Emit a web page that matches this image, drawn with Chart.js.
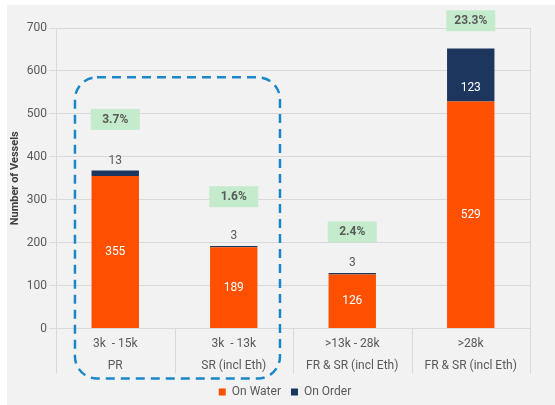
<!DOCTYPE html>
<html>
<head>
<meta charset="utf-8">
<script src="https://cdn.jsdelivr.net/npm/chart.js@4"></script>
<style>
html,body{margin:0;padding:0;background:#fff;}
#wrap{width:555px;height:405px;position:relative;}
</style>
</head>
<body>
<div id="wrap"><canvas id="c" width="555" height="405"></canvas></div>
<script>
// ---- data ----
const sizeRanges = ['3k  - 15k', '3k  - 13k', '>13k - 28k', '>28k'];
const vesselTypes = ['PR', 'SR (incl Eth)', 'FR & SR (incl Eth)', 'FR & SR (incl Eth)'];
const onWater = [355, 189, 126, 529];
const onOrder = [13, 3, 3, 123];
const orderbookPct = ['3.7%', '1.6%', '2.4%', '23.3%'];
const pctLabelAt = [487, 307, 225, 717];   // value-axis level of each % box
const yMin = 0, yMax = 700, yStep = 100;
const seriesNames = ['On Water', 'On Order'];
const groupedCats = [0, 1];                 // categories inside the dashed outline
const groupTop = 585;                        // value-axis level of the outline's top

const labels = sizeRanges.map((s, i) => [s, vesselTypes[i]]);

const FONT = 'Roboto, "Liberation Sans", Arial, sans-serif';
const GRID = '#d9d9d9';
const TXT = '#595959';
const SEP = 45; // length of category separators below axis

const bgPlugin = {
  id: 'bg',
  beforeDraw(chart) {
    const ctx = chart.ctx;
    ctx.save();
    ctx.fillStyle = '#ffffff';
    ctx.fillRect(0, 0, chart.width, chart.height);
    ctx.fillStyle = '#f2f2f2';
    ctx.fillRect(7, 5, chart.width - 7, chart.height - 5);
    ctx.restore();
  },
  afterLayout(chart) {
    const lg = chart.legend;
    if (lg) { lg.left -= 8; lg.right -= 8; lg.top += 3; lg.bottom += 3; }
  }
};

const decoPlugin = {
  id: 'deco',
  afterDatasetsDraw(chart) {
    const ctx = chart.ctx;
    const xs = chart.scales.x, ys = chart.scales.y;
    const ca = chart.chartArea;
    ctx.save();
    // right border of plot + category separators below axis
    ctx.strokeStyle = GRID; ctx.lineWidth = 1;
    ctx.beginPath();
    ctx.moveTo(Math.round(ca.right) + 0.5, ca.top);
    ctx.lineTo(Math.round(ca.right) + 0.5, ca.bottom);
    const n = labels.length;
    const step = xs.getPixelForValue(1) - xs.getPixelForValue(0);
    for (let i = 0; i <= n; i++) {
      const px = i < n ? xs.getPixelForValue(i) - step / 2 : ca.right;
      const X = Math.round(px) + 0.5;
      ctx.moveTo(X, ca.bottom);
      ctx.lineTo(X, ca.bottom + SEP);
    }
    ctx.stroke();

    // data labels
    const mWater = chart.getDatasetMeta(0), mOrder = chart.getDatasetMeta(1);
    ctx.font = '12px ' + FONT;
    ctx.textAlign = 'center'; ctx.textBaseline = 'middle';
    mWater.data.forEach((bar, i) => {
      ctx.fillStyle = '#ffffff';
      ctx.fillText(String(onWater[i]), bar.x, (bar.y + bar.base) / 2);
    });
    mOrder.data.forEach((bar, i) => {
      const h = bar.base - bar.y;
      if (h > 20) {
        ctx.fillStyle = '#ffffff';
        ctx.fillText(String(onOrder[i]), bar.x, bar.base - 13);
      } else {
        ctx.fillStyle = TXT;
        ctx.fillText(String(onOrder[i]), bar.x, bar.y - 10);
      }
    });

    // percentage boxes
    ctx.font = 'bold 12px ' + FONT;
    mOrder.data.forEach((bar, i) => {
      const cy = ys.getPixelForValue(pctLabelAt[i]);
      const w = 49, h = 21;
      ctx.fillStyle = '#c4ebcc';
      ctx.fillRect(bar.x - w / 2, cy - h / 2, w, h);
      ctx.fillStyle = TXT;
      ctx.fillText(orderbookPct[i], bar.x, cy + 0.5);
    });

    // dashed outline around grouped categories
    const catW = (ca.right - ca.left) / n;
    const l = xs.getPixelForValue(groupedCats[0]) - catW * 0.34;
    const r = xs.getPixelForValue(groupedCats[groupedCats.length - 1]) + catW * 0.39;
    const t = ys.getPixelForValue(groupTop);
    const b = ca.bottom + 50;
    const rad = 22;
    ctx.strokeStyle = '#1b87c9';
    ctx.lineWidth = 2.5;
    ctx.setLineDash([9, 6]);
    ctx.beginPath();
    ctx.moveTo(l + rad, t);
    ctx.lineTo(r - rad, t);
    ctx.arcTo(r, t, r, t + rad, rad);
    ctx.lineTo(r, b - rad);
    ctx.arcTo(r, b, r - rad, b, rad);
    ctx.lineTo(l + rad, b);
    ctx.arcTo(l, b, l, b - rad, rad);
    ctx.lineTo(l, t + rad);
    ctx.arcTo(l, t, l + rad, t, rad);
    ctx.closePath();
    ctx.stroke();
    ctx.restore();
  }
};

new Chart(document.getElementById('c'), {
  type: 'bar',
  data: {
    labels: labels,
    datasets: [
      { label: seriesNames[0], data: onWater, backgroundColor: '#fe5000', barPercentage: 0.4, categoryPercentage: 1 },
      { label: seriesNames[1], data: onOrder, backgroundColor: '#1c365d', barPercentage: 0.4, categoryPercentage: 1 }
    ]
  },
  options: {
    responsive: false,
    animation: false,
    devicePixelRatio: 1,
    layout: { padding: { top: 28, right: 25, bottom: 0, left: 0 } },
    plugins: {
      legend: {
        position: 'bottom',
        fullSize: false,
        labels: { boxWidth: 7, boxHeight: 7, padding: 10, color: TXT, font: { family: FONT, size: 12 } }
      },
      tooltip: { enabled: false }
    },
    scales: {
      x: {
        stacked: true,
        afterFit(scale) { scale.height = 44.5; },
        grid: { display: false },
        border: { display: true, color: GRID },
        ticks: { color: TXT, padding: -3, autoSkip: false, maxRotation: 0, font: { family: FONT, size: 12, lineHeight: 1.83 } }
      },
      y: {
        stacked: true,
        min: yMin, max: yMax,
        afterFit(scale) { scale.width = 56; },
        grid: { color: GRID, drawTicks: true, tickLength: 7 },
        border: { display: true, color: GRID },
        ticks: { stepSize: yStep, color: TXT, padding: 2, font: { family: FONT, size: 12 } },
        title: { display: true, text: 'Number of Vessels', color: '#404040', padding: { top: 8.4, bottom: 0 }, font: { family: FONT, size: 11, weight: 'bold' } }
      }
    }
  },
  plugins: [bgPlugin, decoPlugin]
});
</script>
</body>
</html>
